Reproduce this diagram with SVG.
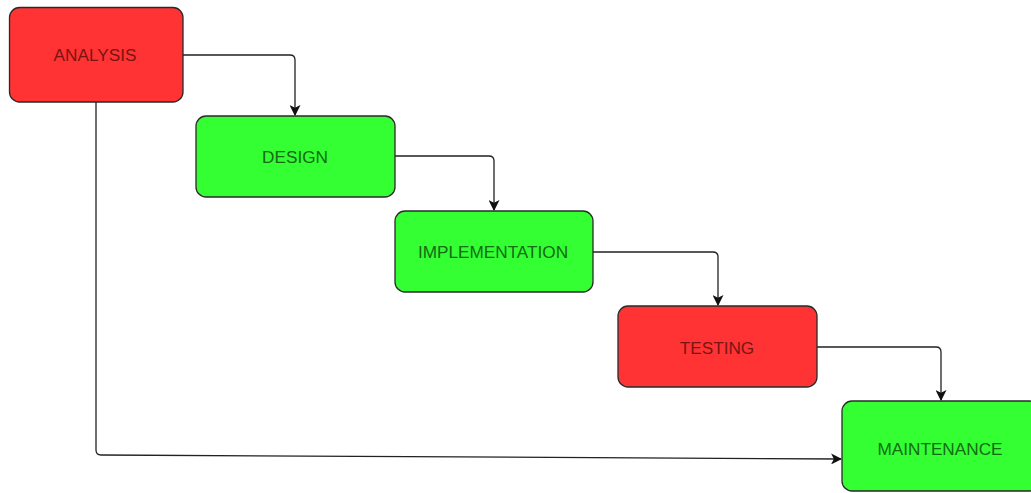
<svg xmlns="http://www.w3.org/2000/svg" width="1031" height="493" viewBox="0 0 1031 493">
<style>
.box{stroke:#2a2a2a;stroke-width:1.3}
.red{fill:#ff3333}
.green{fill:#33ff33}
.lbl{font-family:"Liberation Sans",Arial,sans-serif;font-size:17.2px;text-anchor:middle;dominant-baseline:central}
.tr{fill:#7a1414}
.tg{fill:#146b14}
.edge{fill:none;stroke:#222;stroke-width:1.3}
</style>
<defs>
<marker id="arr" viewBox="0 0 10 10" refX="9" refY="5" markerWidth="11" markerHeight="11" markerUnits="userSpaceOnUse" orient="auto">
<path d="M0,0 L10,5 L0,10 L2.5,5 Z" fill="#111"/>
</marker>
</defs>
<rect width="1031" height="493" fill="#ffffff"/>
<g id="connectors">
<path class="edge" marker-end="url(#arr)" d="M183,55 L290,55 Q295,55 295,60 L295,115"/>
<path class="edge" marker-end="url(#arr)" d="M395,156 L489,156 Q494,156 494,161 L494,210"/>
<path class="edge" marker-end="url(#arr)" d="M593,252 L713,252 Q718,252 718,257 L718,305"/>
<path class="edge" marker-end="url(#arr)" d="M817,347 L936,347 Q941,347 941,352 L941,400"/>
<path class="edge" marker-end="url(#arr)" d="M96,102 L96,450 Q96,455 101,455 L841,459"/>
</g>
<g id="analysis">
<rect class="box red" x="9.5" y="7.5" width="173.5" height="94.5" rx="10"/>
<text class="lbl tr" x="95" y="55">ANALYSIS</text>
</g>
<g id="design">
<rect class="box green" x="196" y="116" width="199" height="81" rx="10"/>
<text class="lbl tg" x="295" y="157">DESIGN</text>
</g>
<g id="implementation">
<rect class="box green" x="395" y="211" width="198" height="81" rx="10"/>
<text class="lbl tg" x="493" y="252">IMPLEMENTATION</text>
</g>
<g id="testing">
<rect class="box red" x="618" y="306" width="199" height="81" rx="10"/>
<text class="lbl tr" x="717" y="348">TESTING</text>
</g>
<g id="maintenance">
<rect class="box green" x="842" y="401" width="198" height="90" rx="10"/>
<text class="lbl tg" x="940" y="449">MAINTENANCE</text>
</g>
</svg>
